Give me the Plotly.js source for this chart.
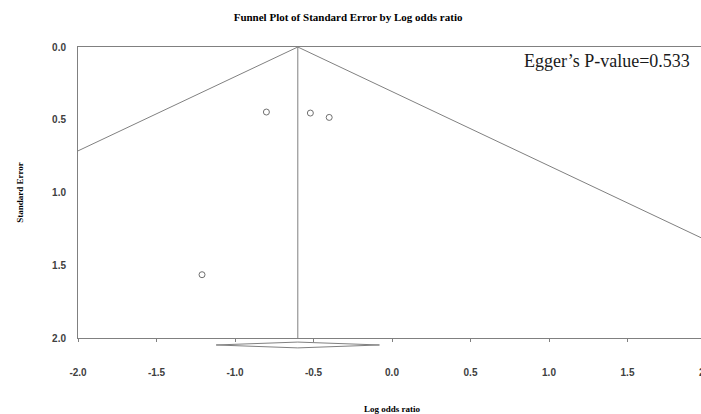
<!DOCTYPE html>
<html>
<head>
<meta charset="utf-8">
<script src="https://cdn.plot.ly/plotly-3.0.1.min.js"></script>
<style>
html,body{margin:0;padding:0;overflow:hidden;background:#fff;width:701px;height:414px;}
#chart{width:706px;height:414px;}
</style>
</head>
<body>
<div id="chart"></div>
<script>
// Study estimates (log odds ratio, standard error)
var studyLogOR = [-0.80, -0.52, -0.40, -1.21];
var studySE = [0.447, 0.454, 0.484, 1.565];

// Pooled estimate and its 95% CI (summary diamond)
var pooledLogOR = -0.60;
var ciLow = -1.12;
var ciHigh = -0.08;

// Funnel (pseudo 95% limits) end points
var funnelX = [-2.0, -0.60, 2.0];
var funnelSE = [0.714, 0.0, 1.327];

// Vertical line at pooled estimate
var pooledLineX = [pooledLogOR, pooledLogOR];
var pooledLineY = [0.0, 2.0];

var xTicks = [-2.0, -1.5, -1.0, -0.5, 0.0, 0.5, 1.0, 1.5, 2.0];
var xTickText = ['-2.0', '-1.5', '-1.0', '-0.5', '0.0', '0.5', '1.0', '1.5', '2.0'];
var yTicks = [0.0, 0.5, 1.0, 1.5, 2.0];
var yTickText = ['0.0', '0.5', '1.0', '1.5', '2.0'];

var lineGray = '#808080';

var traces = [
  {
    x: funnelX, y: funnelSE, type: 'scatter', mode: 'lines',
    line: {color: lineGray, width: 1}, hoverinfo: 'skip', showlegend: false
  },
  {
    x: pooledLineX, y: pooledLineY, type: 'scatter', mode: 'lines',
    line: {color: lineGray, width: 1}, hoverinfo: 'skip', showlegend: false
  },
  {
    x: studyLogOR, y: studySE, type: 'scatter', mode: 'markers',
    marker: {symbol: 'circle-open', size: 6, color: '#707070', line: {width: 1, color: '#707070'}},
    showlegend: false
  }
];

var diamondMid = -0.024, diamondHalf = 0.010;
var diamondPath = 'M ' + ciLow + ',' + diamondMid +
  ' L ' + pooledLogOR + ',' + (diamondMid + diamondHalf) +
  ' L ' + ciHigh + ',' + diamondMid +
  ' L ' + pooledLogOR + ',' + (diamondMid - diamondHalf) + ' Z';

var tickFont = {family: 'Liberation Sans, Arial, sans-serif', size: 10, weight: 'bold', color: '#404040'};
var serifFamily = 'Liberation Serif, Times New Roman, serif';

var layout = {
  width: 706, height: 414,
  margin: {l: 78, r: 0, t: 47, b: 76, pad: 0},
  paper_bgcolor: '#fff', plot_bgcolor: '#fff',
  showlegend: false,
  title: {
    text: 'Funnel Plot of Standard Error by Log odds ratio',
    font: {family: serifFamily, weight: 'bold', size: 11, color: '#000'},
    x: 0.493, xref: 'container', xanchor: 'center', y: 0.959, yref: 'container', yanchor: 'middle'
  },
  xaxis: {
    range: [-2, 2], tickvals: xTicks, ticktext: xTickText,
    showgrid: false, zeroline: false,
    showline: true, linecolor: lineGray, linewidth: 1, mirror: true,
    ticks: 'outside', ticklen: 3, tickcolor: lineGray, tickwidth: 1,
    ticklabelstandoff: 22, ticklabeloverflow: 'allow',
    tickfont: tickFont,
    title: {text: 'Log odds ratio', font: {family: serifFamily, weight: 'bold', size: 9, color: '#000'}, standoff: 28}
  },
  yaxis: {
    range: [2, 0], tickvals: yTicks, ticktext: yTickText,
    showgrid: false, zeroline: false,
    showline: true, linecolor: lineGray, linewidth: 1, mirror: true,
    ticks: '', ticklabelstandoff: 9,
    tickfont: tickFont,
    title: {text: 'Standard Error', font: {family: serifFamily, weight: 'bold', size: 9, color: '#000'}, standoff: 26}
  },
  shapes: [
    {
      type: 'path', xref: 'x', yref: 'paper', path: diamondPath,
      line: {color: lineGray, width: 1}, fillcolor: '#fff'
    }
  ],
  annotations: [
    {
      text: 'Egger\u2019s P-value=0.533', xref: 'paper', yref: 'paper',
      x: 0.978, y: 0.951, xanchor: 'right', yanchor: 'middle', showarrow: false,
      font: {family: serifFamily, size: 18, color: '#1a1a1a'}
    }
  ]
};

Plotly.newPlot('chart', traces, layout, {displayModeBar: false, staticPlot: true});
</script>
</body>
</html>
